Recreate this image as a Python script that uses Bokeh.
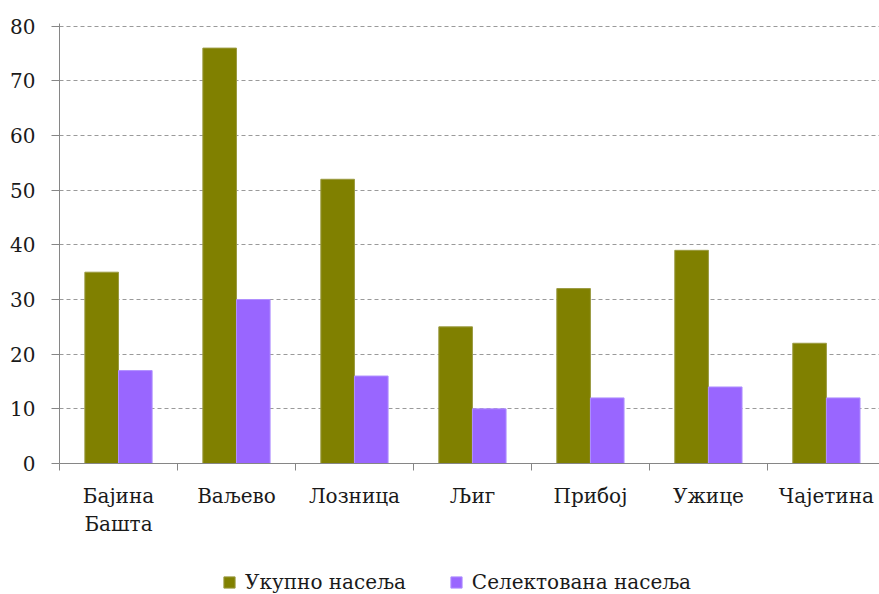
from bokeh.plotting import figure
from bokeh.layouts import column
from bokeh.models import FixedTicker, Legend, LegendItem, Range1d, ColumnDataSource
from bokeh.transform import dodge
from bokeh.embed import file_html
from bokeh.resources import INLINE

towns = ["Бајина\nБашта", "Ваљево", "Лозница", "Љиг", "Прибој", "Ужице", "Чајетина"]
total = [35, 76, 52, 25, 32, 39, 22]
selected = [17, 30, 16, 10, 12, 14, 12]
y_ticks = [0, 10, 20, 30, 40, 50, 60, 70, 80]
series_names = ["Укупно насеља", "Селектована насеља"]
colors = ["#808000", "#9966FF"]
edge_colors = ["#9a9a40", "#b090ff"]

FONT = "DejaVu Serif"
TXT = "#1a1a1a"
AX = "#868686"

n = len(towns)
centers = [i + 0.5 for i in range(n)]
src = ColumnDataSource(dict(x=centers, total=total, selected=selected))

p = figure(width=879, height=560, output_backend="svg", toolbar_location=None,
           x_range=Range1d(0, 6.95), y_range=Range1d(0, 80.5),
           min_border_left=59, min_border_right=0, min_border_top=23,
           min_border_bottom=97)
p.outline_line_color = None
p.background_fill_color = "white"
p.border_fill_color = "white"

bw = 0.285
r1 = p.vbar(x=dodge("x", -bw / 2), top="total", width=bw, source=src,
            fill_color=colors[0], line_color=edge_colors[0], line_width=1)
r2 = p.vbar(x=dodge("x", bw / 2), top="selected", width=bw, source=src,
            fill_color=colors[1], line_color=edge_colors[1], line_width=1)

# x axis
xa = p.xaxis[0]
xa.ticker = FixedTicker(ticks=centers, minor_ticks=list(range(n + 1)))
xa.major_label_overrides = {c: t for c, t in zip(centers, towns)}
xa.major_tick_out = 0
xa.major_tick_in = 0
xa.minor_tick_out = 7
xa.minor_tick_in = 0
xa.minor_tick_line_color = AX
xa.axis_line_color = AX
xa.major_label_standoff = 13
xa.major_label_text_font = FONT
xa.major_label_text_font_size = "20px"
xa.major_label_text_color = TXT

# y axis
ya = p.yaxis[0]
ya.ticker = FixedTicker(ticks=y_ticks, minor_ticks=[])
ya.major_tick_out = 8
ya.major_tick_in = 0
ya.major_tick_line_color = AX
ya.axis_line_color = AX
ya.minor_tick_line_color = None
ya.major_label_standoff = 16
ya.major_label_text_font = FONT
ya.major_label_text_font_size = "20px"
ya.major_label_text_color = TXT

p.xgrid.visible = False
p.ygrid.grid_line_color = "#9a9a9a"
p.ygrid.grid_line_dash = "4 3"
p.ygrid.grid_line_width = 1

# legend strip below the chart (its bars sit outside its range, only the legend shows)
pl = figure(width=879, height=34, output_backend="svg", toolbar_location=None,
            x_range=Range1d(-10, -9), y_range=Range1d(-10, -9),
            x_axis_location=None, y_axis_location=None,
            min_border=0)
pl.outline_line_color = None
pl.xgrid.visible = False
pl.ygrid.visible = False
l1 = pl.vbar(x=dodge("x", -bw / 2), top="total", width=bw, source=src,
             fill_color=colors[0], line_color=edge_colors[0])
l2 = pl.vbar(x=dodge("x", bw / 2), top="selected", width=bw, source=src,
             fill_color=colors[1], line_color=edge_colors[1])

legend = Legend(items=[LegendItem(label=series_names[0], renderers=[l1]),
                       LegendItem(label=series_names[1], renderers=[l2])],
                location=(163, 0), orientation="horizontal",
                glyph_width=14, glyph_height=14, label_standoff=9, spacing=43,
                padding=0, margin=0, border_line_color=None,
                background_fill_alpha=0,
                label_text_font=FONT, label_text_font_size="20px",
                label_text_color=TXT)
pl.add_layout(legend)

layout = column(p, pl, spacing=0)
open("out.html", "w").write(file_html(layout, INLINE))
